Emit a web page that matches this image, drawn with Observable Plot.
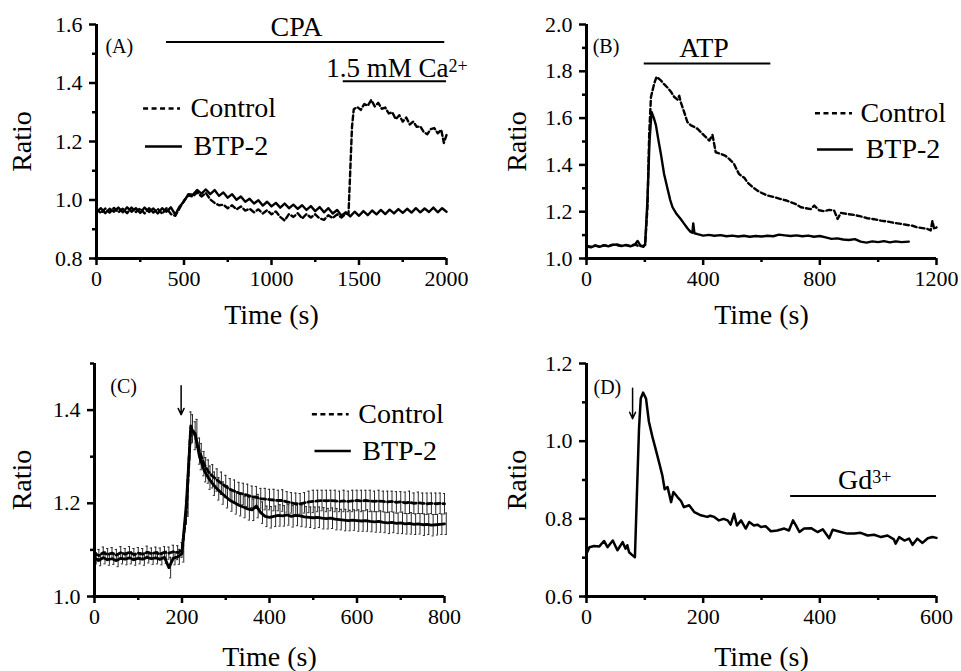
<!DOCTYPE html>
<html>
<head>
<meta charset="utf-8">
<script src="https://cdn.jsdelivr.net/npm/d3@7"></script>
<script src="https://cdn.jsdelivr.net/npm/@observablehq/plot@0.6"></script>
<style>
  html, body { margin: 0; padding: 0; background: #fff; }
  #fig { position: relative; width: 961px; height: 671px; font-family: "Liberation Serif", serif; }
  #fig svg { position: absolute; }
</style>
</head>
<body>
<div id="fig"></div>
<script>
// ---------- DATA ----------
// Panel A: [time (s), ratio]
const aControl = [[0,.970],[25,.955],[50,.971],[75,.957],[100,.973],[125,.958],[150,.970],[175,.955],[200,.974],[225,.959],[250,.971],[275,.954],[300,.972],[325,.957],[350,.970],[375,.953],[400,.972],[425,.952],[450,.946],[475,.972],[500,.998],[525,1.016],[550,1.012],[575,1.026],[600,1.012],[625,1.024],[650,1.002],[675,.990],[700,.982],[725,.984],[750,.972],[775,.982],[800,.968],[825,.978],[850,.964],[875,.970],[900,.958],[925,.968],[950,.954],[975,.965],[1000,.951],[1025,.961],[1050,.942],[1075,.930],[1100,.952],[1125,.942],[1150,.955],[1175,.937],[1200,.952],[1225,.940],[1250,.951],[1275,.937],[1300,.932],[1325,.948],[1350,.938],[1375,.951],[1400,.940],[1425,.953],[1440,.952],[1450,1.100],[1460,1.250],[1470,1.310],[1490,1.318],[1510,1.308],[1530,1.328],[1550,1.322],[1570,1.342],[1590,1.320],[1610,1.332],[1630,1.312],[1650,1.316],[1670,1.296],[1690,1.300],[1710,1.276],[1730,1.290],[1750,1.268],[1770,1.282],[1790,1.258],[1810,1.268],[1830,1.250],[1850,1.252],[1870,1.232],[1890,1.225],[1910,1.242],[1930,1.246],[1950,1.228],[1970,1.240],[1985,1.195],[2000,1.222]];
const aBtp2 = [[0,.958],[25,.972],[50,.955],[75,.970],[100,.960],[125,.974],[150,.958],[175,.975],[200,.960],[225,.972],[250,.956],[275,.974],[300,.959],[325,.971],[350,.954],[375,.972],[400,.960],[425,.975],[450,.950],[475,.978],[500,.995],[525,1.020],[550,1.018],[575,1.034],[600,1.022],[625,1.036],[650,1.020],[675,1.034],[700,1.014],[725,1.026],[750,1.008],[775,1.020],[800,1.001],[825,1.012],[850,.994],[875,1.004],[900,.988],[925,.999],[950,.981],[975,.994],[1000,.978],[1025,.990],[1050,.974],[1075,.988],[1100,.972],[1125,.984],[1150,.970],[1175,.982],[1200,.966],[1225,.979],[1250,.962],[1275,.976],[1300,.958],[1325,.972],[1350,.954],[1375,.966],[1400,.946],[1425,.958],[1450,.944],[1475,.960],[1500,.946],[1525,.962],[1550,.948],[1575,.964],[1600,.951],[1625,.966],[1650,.952],[1675,.967],[1700,.954],[1725,.969],[1750,.956],[1775,.970],[1800,.957],[1825,.972],[1850,.958],[1875,.971],[1900,.959],[1925,.974],[1950,.958],[1975,.972],[2000,.960]];

// Panel B: [time (s), ratio]
const bControl = [[0,1.055],[15,1.050],[30,1.056],[45,1.051],[60,1.057],[75,1.053],[90,1.059],[105,1.057],[120,1.053],[135,1.058],[150,1.054],[165,1.060],[180,1.052],[195,1.055],[201,1.058],[209,1.219],[215,1.533],[221,1.690],[232,1.747],[240,1.776],[255,1.761],[266,1.745],[278,1.730],[290,1.712],[301,1.690],[312,1.679],[318,1.695],[323,1.669],[335,1.625],[346,1.583],[358,1.569],[370,1.562],[381,1.554],[392,1.540],[403,1.526],[421,1.504],[432,1.528],[443,1.454],[461,1.447],[475,1.440],[489,1.426],[506,1.404],[515,1.380],[523,1.361],[541,1.345],[552,1.325],[570,1.305],[586,1.290],[604,1.278],[621,1.269],[645,1.262],[666,1.254],[685,1.248],[701,1.240],[718,1.232],[735,1.219],[752,1.215],[769,1.211],[781,1.226],[798,1.206],[815,1.202],[832,1.208],[849,1.205],[861,1.169],[872,1.195],[895,1.190],[918,1.186],[940,1.180],[963,1.172],[986,1.168],[1009,1.162],[1032,1.158],[1055,1.152],[1078,1.148],[1101,1.143],[1118,1.140],[1135,1.133],[1152,1.130],[1169,1.126],[1180,1.120],[1186,1.161],[1192,1.126],[1200,1.133]];
const bBtp2 = [[0,1.052],[15,1.048],[30,1.055],[45,1.050],[60,1.056],[75,1.052],[90,1.058],[105,1.060],[120,1.054],[135,1.057],[150,1.052],[165,1.058],[175,1.075],[185,1.055],[195,1.050],[201,1.060],[209,1.250],[216,1.500],[223,1.626],[231,1.600],[238,1.570],[246,1.510],[255,1.447],[266,1.361],[278,1.297],[287,1.250],[295,1.219],[309,1.190],[323,1.169],[335,1.148],[346,1.129],[356,1.115],[363,1.110],[366,1.150],[370,1.108],[381,1.104],[400,1.098],[420,1.101],[438,1.097],[460,1.100],[480,1.095],[500,1.098],[520,1.094],[540,1.097],[560,1.093],[580,1.096],[600,1.094],[620,1.097],[640,1.095],[660,1.102],[680,1.099],[700,1.096],[720,1.099],[740,1.095],[760,1.098],[780,1.093],[800,1.096],[820,1.090],[840,1.084],[860,1.086],[880,1.081],[900,1.079],[920,1.083],[940,1.072],[960,1.068],[980,1.073],[1000,1.070],[1020,1.074],[1040,1.069],[1060,1.073],[1080,1.070],[1105,1.072]];

// Panel C: [time (s), mean ratio, SEM]
const cControl = [[0,1.092,.012],[10,1.088,.013],[20,1.094,.012],[30,1.090,.013],[40,1.093,.012],[50,1.089,.012],[60,1.094,.013],[70,1.091,.012],[80,1.095,.012],[90,1.090,.013],[100,1.093,.012],[110,1.091,.012],[120,1.095,.013],[130,1.092,.012],[140,1.094,.012],[150,1.091,.013],[160,1.095,.012],[170,1.093,.013],[180,1.096,.014],[190,1.094,.015],[200,1.100,.016],[210,1.180,.025],[220,1.366,.030],[230,1.345,.030],[240,1.312,.028],[250,1.285,.026],[260,1.268,.025],[270,1.258,.025],[280,1.250,.024],[290,1.243,.024],[300,1.236,.024],[310,1.230,.023],[320,1.226,.024],[330,1.222,.023],[340,1.220,.023],[350,1.217,.024],[360,1.214,.023],[370,1.213,.023],[380,1.210,.022],[390,1.209,.023],[400,1.208,.022],[410,1.207,.023],[420,1.206,.022],[430,1.206,.023],[440,1.203,.022],[450,1.201,.022],[460,1.199,.023],[470,1.199,.022],[480,1.201,.022],[490,1.203,.023],[500,1.204,.024],[510,1.205,.023],[520,1.206,.022],[530,1.205,.023],[540,1.206,.022],[550,1.205,.023],[560,1.204,.022],[570,1.205,.023],[580,1.204,.022],[590,1.205,.023],[600,1.206,.022],[610,1.205,.023],[620,1.206,.022],[630,1.205,.023],[640,1.204,.022],[650,1.205,.023],[660,1.204,.022],[670,1.203,.023],[680,1.204,.022],[690,1.202,.023],[700,1.203,.022],[710,1.201,.023],[720,1.202,.024],[730,1.200,.022],[740,1.201,.023],[750,1.200,.022],[760,1.199,.023],[770,1.200,.022],[780,1.199,.023],[790,1.200,.022],[800,1.199,.022]];
const cBtp2 = [[0,1.082,.012],[10,1.078,.012],[20,1.083,.013],[30,1.079,.012],[40,1.081,.012],[50,1.077,.013],[60,1.082,.012],[70,1.080,.012],[80,1.083,.013],[90,1.079,.012],[100,1.082,.012],[110,1.080,.013],[120,1.084,.012],[130,1.081,.012],[140,1.083,.013],[150,1.080,.012],[160,1.084,.013],[170,1.062,.022],[180,1.082,.014],[190,1.085,.016],[200,1.092,.018],[210,1.200,.028],[220,1.360,.030],[230,1.350,.030],[240,1.300,.028],[250,1.272,.026],[260,1.255,.025],[270,1.242,.025],[280,1.231,.024],[290,1.222,.024],[300,1.214,.024],[310,1.206,.023],[320,1.201,.024],[330,1.196,.023],[340,1.192,.023],[350,1.188,.024],[360,1.186,.023],[370,1.194,.025],[380,1.180,.023],[390,1.172,.022],[400,1.170,.023],[410,1.172,.022],[420,1.174,.023],[430,1.173,.022],[440,1.175,.022],[450,1.172,.023],[460,1.174,.022],[470,1.173,.023],[480,1.171,.022],[490,1.170,.022],[500,1.169,.023],[510,1.170,.022],[520,1.168,.023],[530,1.167,.022],[540,1.168,.022],[550,1.166,.023],[560,1.165,.022],[570,1.164,.023],[580,1.163,.022],[590,1.164,.022],[600,1.163,.023],[610,1.162,.022],[620,1.163,.023],[630,1.161,.022],[640,1.160,.022],[650,1.161,.023],[660,1.159,.022],[670,1.158,.023],[680,1.159,.022],[690,1.157,.022],[700,1.158,.023],[710,1.156,.022],[720,1.157,.023],[730,1.155,.022],[740,1.156,.022],[750,1.154,.023],[760,1.155,.022],[770,1.153,.023],[780,1.154,.022],[790,1.155,.022],[800,1.156,.023]];

// Panel D: [time (s), ratio]
const dTrace = [[0,.710],[5,.727],[13,.730],[22,.729],[30,.743],[36,.727],[45,.744],[53,.719],[62,.740],[67,.723],[70,.732],[73,.714],[79,.706],[83,.701],[86,.843],[90,1.032],[93,1.110],[97,1.125],[102,1.110],[107,1.050],[113,1.011],[119,.977],[125,.942],[130,.912],[134,.876],[139,.882],[145,.843],[149,.869],[156,.856],[162,.846],[167,.830],[176,.835],[185,.817],[196,.809],[207,.805],[212,.808],[219,.805],[227,.796],[235,.800],[242,.796],[247,.785],[253,.813],[258,.783],[265,.796],[273,.775],[279,.792],[287,.783],[293,.785],[299,.779],[307,.781],[316,.768],[327,.770],[339,.775],[347,.770],[354,.796],[359,.783],[365,.766],[373,.775],[385,.776],[396,.766],[405,.773],[416,.750],[422,.772],[436,.766],[447,.762],[459,.762],[470,.764],[482,.757],[493,.759],[505,.753],[516,.757],[527,.747],[530,.736],[536,.753],[545,.744],[553,.749],[559,.733],[567,.749],[576,.738],[585,.750],[593,.753],[600,.751]];

// Drug application periods [start, end] (s)
const cpaPeriod = [400, 1990];
const caPeriod = [1410, 2000];
const atpPeriod = [198, 632];
const gdPeriod = [350, 600];
const arrowC = 198;
const arrowD = 79;

// Tick values
const aXTicks = [0, 500, 1000, 1500, 2000], aXMinor = [250, 750, 1250, 1750];
const aYTicks = [0.8, 1.0, 1.2, 1.4, 1.6], aYMinor = [0.9, 1.1, 1.3, 1.5];
const bXTicks = [0, 400, 800, 1200], bXMinor = [200, 600, 1000];
const bYTicks = [1.0, 1.2, 1.4, 1.6, 1.8, 2.0], bYMinor = [1.1, 1.3, 1.5, 1.7, 1.9];
const cXTicks = [0, 200, 400, 600, 800], cXMinor = [100, 300, 500, 700];
const cYTicks = [1.0, 1.2, 1.4], cYMinor = [1.1, 1.3, 1.5];
const dXTicks = [0, 200, 400, 600], dXMinor = [100, 300, 500];
const dYTicks = [0.6, 0.8, 1.0, 1.2], dYMinor = [0.7, 0.9, 1.1];

// ---------- DRAWING ----------
const FONT = "Liberation Serif";
const fmtX = d3.format("d"), fmtY = d3.format(".1f");
const DASH = "5,3";
const LW = 2.4;
const tx = d => d[0], ty = d => d[1];

function axes(c) {
  return [
    Plot.axisX({ticks: c.xMinor, tickSize: 4, strokeWidth: 2.5, tickFormat: () => "", label: null}),
    Plot.axisX({ticks: c.xTicks, tickSize: 7, tickPadding: 5, strokeWidth: 2.5, fontSize: 22, tickFormat: fmtX, label: null}),
    Plot.axisY({ticks: c.yMinor, tickSize: 4, strokeWidth: 2.5, tickFormat: () => "", label: null}),
    Plot.axisY({ticks: c.yTicks, tickSize: 7, tickPadding: 7, strokeWidth: 2.5, fontSize: 22, tickFormat: fmtY, label: null}),
    Plot.ruleX([c.xDomain[0]], {strokeWidth: 3}),
    Plot.ruleY([c.yDomain[0]], {strokeWidth: 3, insetLeft: -1.5}),
    Plot.text(["Ratio"], {text: d => d, frameAnchor: "left", dx: c.ratioDx, rotate: -90, textAnchor: "middle", lineAnchor: "middle", fontSize: 28}),
    Plot.text(["Time (s)"], {text: d => d, frameAnchor: "bottom", dy: c.timeDy, textAnchor: "middle", lineAnchor: "middle", fontSize: 28})
  ];
}

function legend(L) {
  return [
    Plot.ruleY([L.dashY], {x1: L.dashX[0], x2: L.dashX[1], strokeWidth: 2.5, strokeDasharray: "5,3.5"}),
    Plot.ruleY([L.solidY], {x1: L.solidX[0], x2: L.solidX[1], strokeWidth: 2.5}),
    Plot.text(["Control"], {text: d => d, x: L.textX[0], y: L.dashY, textAnchor: "start", lineAnchor: "middle", fontSize: 28}),
    Plot.text(["BTP-2"], {text: d => d, x: L.textX[1], y: L.solidY, textAnchor: "start", lineAnchor: "middle", fontSize: 28})
  ];
}

function panel(c) {
  const svg = Plot.plot({
    width: c.width, height: c.height,
    marginLeft: c.m[3], marginRight: c.m[1], marginTop: c.m[0], marginBottom: c.m[2],
    x: {domain: c.xDomain},
    y: {domain: c.yDomain},
    style: {fontFamily: FONT, background: "transparent", color: "black", overflow: "visible"},
    marks: [...c.marks, ...axes(c)]
  });
  svg.style.left = c.left + "px";
  svg.style.top = c.top + "px";
  document.getElementById("fig").appendChild(svg);
}

// Panel A
panel({
  left: 0, top: 0, width: 480, height: 335, m: [24, 34, 77, 96],
  xDomain: [0, 2000], yDomain: [0.8, 1.6],
  xTicks: aXTicks, xMinor: aXMinor, yTicks: aYTicks, yMinor: aYMinor,
  ratioDx: -74, timeDy: 57,
  marks: [
    Plot.line(aBtp2, {x: tx, y: ty, strokeWidth: LW}),
    Plot.line(aControl, {x: tx, y: ty, strokeWidth: LW, strokeDasharray: DASH}),
    Plot.ruleY([1.54], {x1: cpaPeriod[0], x2: cpaPeriod[1], strokeWidth: 2}),
    Plot.text(["CPA"], {text: d => d, x: 1143, y: 1.562, textAnchor: "middle", lineAnchor: "bottom", fontSize: 28}),
    Plot.ruleY([1.406], {x1: caPeriod[0], x2: caPeriod[1], strokeWidth: 2}),
    Plot.text(["1.5 mM Ca"], {text: d => d, x: 2011, y: 1.422, textAnchor: "end", lineAnchor: "bottom", fontSize: 27}),
    Plot.text(["2+"], {text: d => d, x: 2011, y: 1.438, textAnchor: "start", lineAnchor: "bottom", fontSize: 18}),
    Plot.text(["(A)"], {text: d => d, x: 51, y: 1.501, textAnchor: "start", lineAnchor: "bottom", fontSize: 20}),
    ...legend({dashX: [269, 480], dashY: 1.313, solidX: [280, 491], solidY: 1.183, textX: [537, 554]})
  ]
});

// Panel B
panel({
  left: 480, top: 0, width: 481, height: 335, m: [24, 25, 77, 106],
  xDomain: [0, 1200], yDomain: [1.0, 2.0],
  xTicks: bXTicks, xMinor: bXMinor, yTicks: bYTicks, yMinor: bYMinor,
  ratioDx: -69, timeDy: 57,
  marks: [
    Plot.line(bBtp2, {x: tx, y: ty, strokeWidth: LW}),
    Plot.line(bControl, {x: tx, y: ty, strokeWidth: LW, strokeDasharray: DASH}),
    Plot.ruleY([1.833], {x1: atpPeriod[0], x2: atpPeriod[1], strokeWidth: 2}),
    Plot.text(["ATP"], {text: d => d, x: 403, y: 1.86, textAnchor: "middle", lineAnchor: "bottom", fontSize: 28}),
    Plot.text(["(B)"], {text: d => d, x: 21, y: 1.88, textAnchor: "start", lineAnchor: "bottom", fontSize: 20}),
    ...legend({dashX: [785, 912], dashY: 1.621, solidX: [792, 915], solidY: 1.466, textX: [939, 957]})
  ]
});

// Panel C
const errStroke = {stroke: "#2a2a2a", strokeWidth: 1};
panel({
  left: 0, top: 335, width: 480, height: 336, m: [28, 36, 75, 94],
  xDomain: [0, 800], yDomain: [1.0, 1.5],
  xTicks: cXTicks, xMinor: cXMinor, yTicks: cYTicks, yMinor: cYMinor,
  ratioDx: -72, timeDy: 61,
  marks: [
    Plot.ruleX(cControl, {x: tx, y1: d => d[1] - d[2], y2: d => d[1] + d[2], ...errStroke}),
    Plot.ruleY(cControl, {y: d => d[1] + d[2], x1: d => d[0] - 2.5, x2: d => d[0] + 2.5, ...errStroke}),
    Plot.ruleY(cControl, {y: d => d[1] - d[2], x1: d => d[0] - 2.5, x2: d => d[0] + 2.5, ...errStroke}),
    Plot.ruleX(cBtp2, {x: d => d[0] + 4, y1: d => d[1] - d[2], y2: d => d[1] + d[2], ...errStroke}),
    Plot.ruleY(cBtp2, {y: d => d[1] + d[2], x1: d => d[0] + 1.5, x2: d => d[0] + 6.5, ...errStroke}),
    Plot.ruleY(cBtp2, {y: d => d[1] - d[2], x1: d => d[0] + 1.5, x2: d => d[0] + 6.5, ...errStroke}),
    Plot.line(cBtp2, {x: tx, y: ty, strokeWidth: 2.8}),
    Plot.line(cControl, {x: tx, y: ty, strokeWidth: 2.8, strokeDasharray: DASH}),
    Plot.arrow([arrowC], {x1: d => d, x2: d => d, y1: 1.452, y2: 1.39, strokeWidth: 1.5, headLength: 7, headAngle: 50}),
    Plot.text(["(C)"], {text: d => d, x: 36, y: 1.436, textAnchor: "start", lineAnchor: "bottom", fontSize: 20}),
    ...legend({dashX: [498, 582], dashY: 1.391, solidX: [504, 587], solidY: 1.312, textX: [603, 612]})
  ]
});

// Panel D
panel({
  left: 480, top: 335, width: 481, height: 336, m: [28, 25, 75, 106],
  xDomain: [0, 600], yDomain: [0.6, 1.2],
  xTicks: dXTicks, xMinor: dXMinor, yTicks: dYTicks, yMinor: dYMinor,
  ratioDx: -69, timeDy: 61,
  marks: [
    Plot.line(dTrace, {x: tx, y: ty, strokeWidth: 2.5}),
    Plot.ruleY([0.859], {x1: gdPeriod[0], x2: gdPeriod[1], strokeWidth: 2}),
    Plot.text(["Gd"], {text: d => d, x: 490, y: 0.876, textAnchor: "end", lineAnchor: "bottom", fontSize: 28}),
    Plot.text(["3+"], {text: d => d, x: 490, y: 0.891, textAnchor: "start", lineAnchor: "bottom", fontSize: 18}),
    Plot.arrow([arrowD], {x1: d => d, x2: d => d, y1: 1.136, y2: 1.058, strokeWidth: 1.5, headLength: 7, headAngle: 50}),
    Plot.text(["(D)"], {text: d => d, x: 12, y: 1.121, textAnchor: "start", lineAnchor: "bottom", fontSize: 20})
  ]
});
</script>
</body>
</html>
